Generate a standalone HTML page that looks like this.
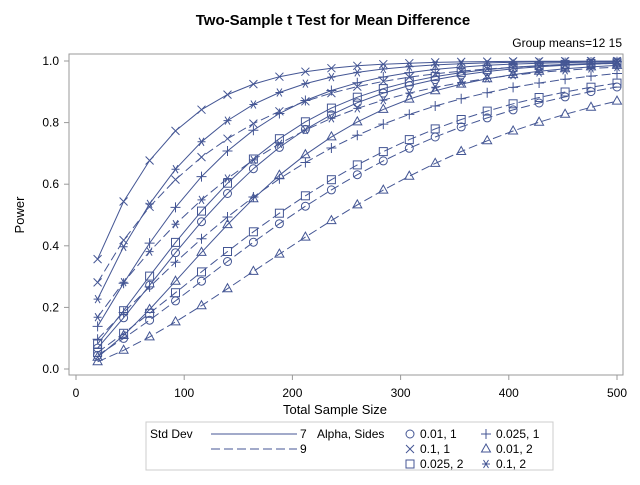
<!DOCTYPE html>
<html><head><meta charset="utf-8"><style>
body{margin:0;background:#fff;}
svg text{font-family:"Liberation Sans",Arial,sans-serif;fill:#000;}
</style></head><body>
<svg id="s" width="640" height="480" xmlns="http://www.w3.org/2000/svg">
<rect x="0" y="0" width="640" height="480" fill="#fff"/>
<text x="333" y="25" font-size="15" font-weight="bold" text-anchor="middle">Two-Sample t Test for Mean Difference</text>
<text x="622" y="47" font-size="12" text-anchor="end">Group means=12 15</text>
<rect x="69" y="54" width="554" height="321" fill="none" stroke="#999" stroke-width="1"/>
<text x="335" y="414" font-size="13" text-anchor="middle">Total Sample Size</text>
<text x="24" y="215" font-size="13" text-anchor="middle" transform="rotate(-90 24 215)">Power</text>
<g id="ax"></g>
<g id="pl"></g>
<rect x="146" y="422" width="407" height="48" fill="none" stroke="#ccc"/>
<text x="150" y="438" font-size="12">Std Dev</text>
<line x1="211" y1="434" x2="297" y2="434" stroke="#445694" stroke-width="1"/>
<text x="300" y="438" font-size="12">7</text>
<line x1="211" y1="449" x2="297" y2="449" stroke="#445694" stroke-dasharray="9,4"/>
<text x="300" y="453" font-size="12">9</text>
<text x="317" y="438" font-size="12">Alpha, Sides</text>
<g id="lg"></g>
<text x="420" y="438" font-size="12">0.01, 1</text>
<text x="420" y="453" font-size="12">0.1, 1</text>
<text x="420" y="468" font-size="12">0.025, 2</text>
<text x="496" y="438" font-size="12">0.025, 1</text>
<text x="496" y="453" font-size="12">0.01, 2</text>
<text x="496" y="468" font-size="12">0.1, 2</text>
</svg>
<script>
const C="#445694";
function X(n){return 76+n*1.082;}
function Y(p){return 369-p*308;}
function erf(x){const t=1/(1+0.3275911*Math.abs(x));const y=1-(((((1.061405429*t-1.453152027)*t)+1.421413741)*t-0.284496736)*t+0.254829592)*t*Math.exp(-x*x);return x>=0?y:-y;}
function Phi(x){return 0.5*(1+erf(x/Math.SQRT2));}
function invPhi(p){let lo=-10,hi=10;for(let i=0;i<100;i++){const m=(lo+hi)/2;if(Phi(m)<p)lo=m;else hi=m;}return (lo+hi)/2;}
function mk(t,x,y){const r=4;
 if(t=='o')return `<circle cx="${x}" cy="${y}" r="${r}" fill="none" stroke="${C}"/>`;
 if(t=='x')return `<path d="M${x-r} ${y-r}L${x+r} ${y+r}M${x-r} ${y+r}L${x+r} ${y-r}" stroke="${C}" fill="none"/>`;
 if(t=='s')return `<rect x="${x-r}" y="${y-r}" width="${2*r}" height="${2*r}" fill="none" stroke="${C}"/>`;
 if(t=='+')return `<path d="M${x-r-1} ${y}L${x+r+1} ${y}M${x} ${y-r-1}L${x} ${y+r+1}" stroke="${C}" fill="none"/>`;
 if(t=='t')return `<path d="M${x} ${y-r-1}L${x+r+0.5} ${y+r-1}L${x-r-0.5} ${y+r-1}Z" stroke="${C}" fill="none"/>`;
 if(t=='a')return `<path d="M${x-r} ${y}L${x+r} ${y}M${x-2.5} ${y-r}L${x+2.5} ${y+r}M${x-2.5} ${y+r}L${x+2.5} ${y-r}" stroke="${C}" fill="none"/>`;}
let a='';
for(let v=0;v<=500;v+=100){a+=`<line x1="${X(v)}" y1="375" x2="${X(v)}" y2="380" stroke="#999"/><text x="${X(v)}" y="397" font-size="12" text-anchor="middle">${v}</text>`;}
for(let i=0;i<=5;i++){const p=i*0.2;a+=`<line x1="64" y1="${Y(p)}" x2="69" y2="${Y(p)}" stroke="#999"/><text x="59" y="${Y(p)+4}" font-size="12" text-anchor="end">${p.toFixed(1)}</text>`;}
document.getElementById('ax').innerHTML=a;
const cs=[[0.01,1,'o'],[0.1,1,'x'],[0.025,2,'s'],[0.025,1,'+'],[0.01,2,'t'],[0.1,2,'a']];
let g='';
for(const sd of [7,9]){for(const [al,sides,m] of cs){
 const z=invPhi(1-al/sides);let pts=[];
 for(let i=0;i<=20;i++){const n=20+i*24;const p=Phi(3*Math.sqrt(n/4)/sd-z*(1+(z*z+1)/(8*(n-2)))-0.02);pts.push([X(n),Y(p)]);}
 g+=`<polyline points="${pts.map(q=>q[0].toFixed(1)+','+q[1].toFixed(1)).join(' ')}" fill="none" stroke="${C}" ${sd==9?'stroke-dasharray="9,4"':''}/>`;
 for(const q of pts)g+=mk(m,q[0].toFixed(1)*1,q[1].toFixed(1)*1);
}}
document.getElementById('pl').innerHTML=g;
document.getElementById('lg').innerHTML=mk('o',410,434)+mk('x',410,449)+mk('s',410,464)+mk('+',486,434)+mk('t',486,449)+mk('a',486,464);
</script>
</body></html>
